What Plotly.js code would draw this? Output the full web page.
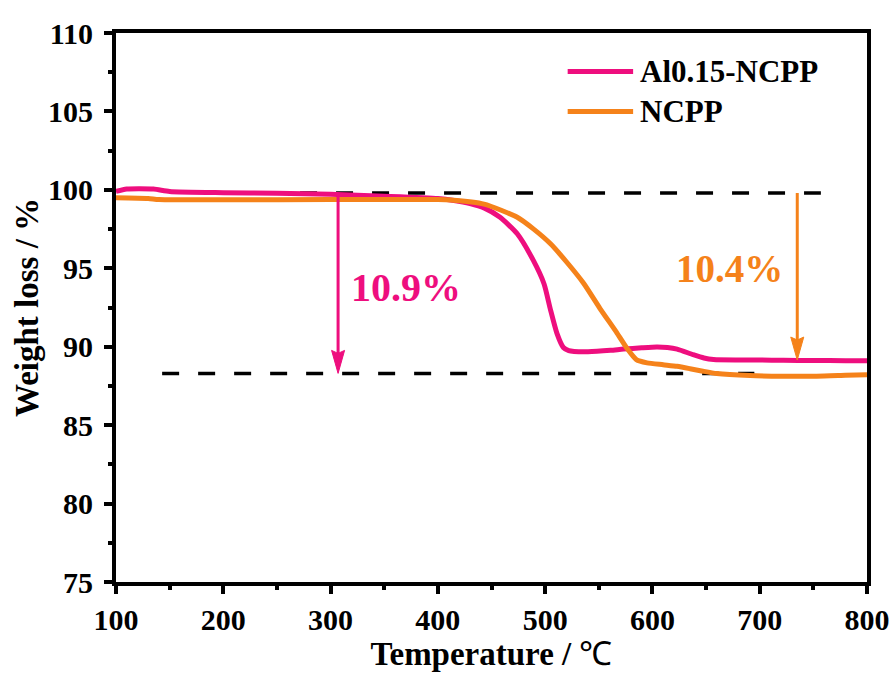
<!DOCTYPE html>
<html>
<head>
<meta charset="utf-8">
<script src="https://cdn.plot.ly/plotly-3.0.1.min.js"></script>
</head>
<body style="margin:0;background:#ffffff">
<div id="chart" style="width:896px;height:673px"></div>
<script>
// TGA curves: temperature (°C) vs. remaining weight (%)
const seriesNames = ['Al0.15-NCPP', 'NCPP'];

const tempAl = [100, 110, 135, 150, 200, 250, 300, 350, 400, 415, 430, 443, 458, 474, 489, 499, 505, 511, 517, 522, 527, 540, 561, 573, 590, 604, 614, 623, 638, 648, 657, 680, 700, 722, 750, 780, 800];
const weightAl = [99.9, 100.05, 100.05, 99.9, 99.82, 99.78, 99.72, 99.6, 99.45, 99.32, 99.12, 98.85, 98.25, 97.2, 95.5, 94.0, 92.35, 90.85, 89.95, 89.75, 89.7, 89.68, 89.77, 89.85, 89.93, 89.98, 89.95, 89.85, 89.49, 89.28, 89.18, 89.15, 89.15, 89.13, 89.12, 89.11, 89.11];

const tempNCPP = [100, 130, 140, 200, 300, 400, 412, 443, 474, 489, 505, 520, 536, 551, 567, 576, 585, 595, 610, 623, 635, 647, 660, 691, 722, 753, 780, 800];
const weightNCPP = [99.5, 99.45, 99.38, 99.37, 99.38, 99.38, 99.35, 99.09, 98.25, 97.51, 96.56, 95.4, 94.03, 92.45, 90.87, 89.92, 89.18, 88.97, 88.85, 88.75, 88.6, 88.44, 88.29, 88.16, 88.12, 88.12, 88.18, 88.22];

// Reference levels (dashed) and their x extents
const levelY = [99.8, 88.3];
const levelXStart = [238, 143];
const levelXEnd = [757, 695];

// Weight-loss arrows: x position, tail and tip
const arrowX = [307, 735];
const arrowTop = [99.8, 99.8];
const arrowTip = [88.3, 89.15];

// Weight-loss labels
const lossLabels = ['10.9%', '10.4%'];
const lossLabelX = [370, 672];
const lossLabelY = [93.8, 95.0];

// Legend anchors (data coordinates)
const legendLineX = [521, 582];
const legendY = [107.55, 105.0];
const legendTextX = 587;

const xTickVals = [100, 200, 300, 400, 500, 600, 700, 800];
const yTickVals = [75, 80, 85, 90, 95, 100, 105, 110];

const colors = ['#EE0E7E', '#F5821A'];
const FONT = 'Liberation Serif';

const traces = [
  { x: tempAl, y: weightAl, name: seriesNames[0] },
  { x: tempNCPP, y: weightNCPP, name: seriesNames[1] }
].map((t, i) => Object.assign(t, {
  type: 'scatter', mode: 'lines', showlegend: false,
  line: { color: colors[i], width: 5, shape: 'spline', smoothing: 0.6 },
  hoverinfo: 'skip'
}));

const shapes = [];
const annotations = [];

// dashed reference lines
levelY.forEach((y, i) => {
  shapes.push({
    type: 'line', xref: 'x', yref: 'y',
    x0: levelXStart[i], x1: levelXEnd[i], y0: y, y1: y,
    line: { color: '#000000', width: 3.5, dash: '17px,19px' },
    layer: 'below'
  });
});

// arrows: shaft + triangular head
arrowX.forEach((x, i) => {
  shapes.push({
    type: 'line', xref: 'x', yref: 'y',
    x0: x, x1: x, y0: arrowTop[i], y1: arrowTip[i] + 1.0,
    line: { color: colors[i], width: 3 }
  });
  shapes.push({
    type: 'path', xref: 'x', yref: 'y',
    xsizemode: 'pixel', ysizemode: 'pixel',
    xanchor: x, yanchor: arrowTip[i],
    path: 'M0,0 L-6.5,23 L0,20 L6.5,23 Z',
    fillcolor: colors[i], line: { color: colors[i], width: 1 }
  });
});

const labelSizes = [40, 39];
lossLabels.forEach((txt, i) => {
  annotations.push({
    xref: 'x', yref: 'y', x: lossLabelX[i], y: lossLabelY[i],
    text: '<b>' + txt + '</b>', showarrow: false,
    xanchor: 'center', yanchor: 'middle',
    font: { family: FONT, size: labelSizes[i], color: colors[i] }
  });
});

// legend
seriesNames.forEach((name, i) => {
  shapes.push({
    type: 'line', xref: 'x', yref: 'y',
    x0: legendLineX[0], x1: legendLineX[1], y0: legendY[i], y1: legendY[i],
    line: { color: colors[i], width: 5 }
  });
  annotations.push({
    xref: 'x', yref: 'y', x: legendTextX, y: legendY[i],
    text: '<b>' + name + '</b>', showarrow: false,
    xanchor: 'left', yanchor: 'middle',
    font: { family: FONT, size: 31, color: '#000000' }
  });
});

const axisCommon = {
  showline: true, linewidth: 4, linecolor: '#000000', mirror: true,
  ticks: 'outside', ticklen: 8, tickwidth: 4, tickcolor: '#000000',
  showgrid: false, zeroline: false,
  tickfont: { family: FONT, size: 30, color: '#000000', weight: 'bold' }
};

const layout = {
  width: 896, height: 673,
  font: { family: FONT, color: '#000000' },
  margin: { l: 116, r: 29, t: 33, b: 91 },
  paper_bgcolor: '#ffffff', plot_bgcolor: '#ffffff',
  showlegend: false,
  xaxis: Object.assign({}, axisCommon, {
    range: [100, 800], tickvals: xTickVals, ticklabelstandoff: 0,
    minor: { dtick: 50, tick0: 100, ticks: 'outside', ticklen: 4, tickwidth: 4, tickcolor: '#000000' },
    title: { text: '<b>Temperature / </b>\u2103', standoff: 8,
             font: { family: FONT, size: 33, color: '#000000' } }
  }),
  yaxis: Object.assign({}, axisCommon, {
    range: [75, 110], tickvals: yTickVals, ticklabelstandoff: 5,
    minor: { dtick: 2.5, tick0: 75, ticks: 'outside', ticklen: 4, tickwidth: 4, tickcolor: '#000000' },
    title: { text: '<b>Weight loss / %</b>', standoff: 0,
             font: { family: FONT, size: 33, color: '#000000' } }
  }),
  shapes: shapes,
  annotations: annotations
};

Plotly.newPlot('chart', traces, layout, { staticPlot: true, displayModeBar: false });
</script>
</body>
</html>
